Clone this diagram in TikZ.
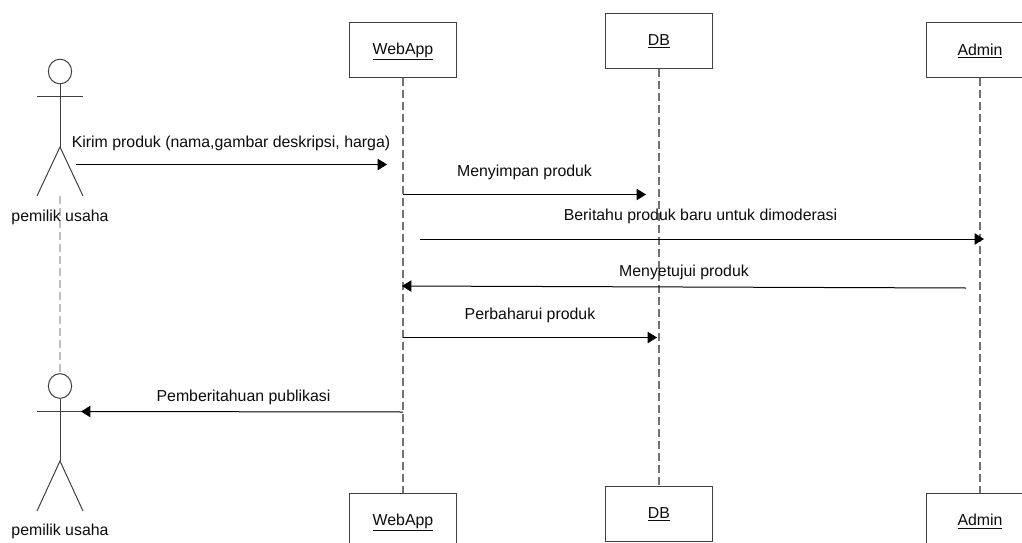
\documentclass[tikz,border=0pt]{standalone}
\usepackage{fontspec}
\setmainfont{Liberation Sans}
\usetikzlibrary{arrows.meta,shapes.geometric}
\tikzset{
  x=0.75pt,y=-0.75pt,
  objbox/.style={draw=black!75,line width=0.75pt,fill=white,minimum width=80.25pt,minimum height=41.25pt,inner sep=0pt,text=black!90},
  lbl/.style={inner sep=0pt,text=black!95,font=\fontsize{11.9pt}{13pt}\selectfont},
  life/.style={draw=black!55,line width=0.8pt,dash pattern=on 6pt off 3pt},
  lifelight/.style={draw=black!25,line width=0.8pt,dash pattern=on 6pt off 3pt},
  msg/.style={draw=black,line width=0.75pt,-{Triangle[length=7pt,width=8.5pt]}},
  stick/.style={draw=black!75,line width=0.75pt},
  head/.style={draw=black!75,line width=0.75pt,ellipse,minimum width=17.5pt,minimum height=18.5pt,inner sep=0pt},
}
\begin{document}
\begin{tikzpicture}
\clip (0,0) rectangle (1022,543);
\fill[white] (0,0) rectangle (1022,543);
% boxes
\node[objbox] (webT) at (403,49.5) {};
\node[objbox] (dbT) at (659,40.5) {};
\node[objbox] (admT) at (980,49.5) {};
\node[objbox] (webB) at (403,520.5) {};
\node[objbox] (dbB) at (659,513.5) {};
\node[objbox] (admB) at (980,520.5) {};
\node[lbl] (webTt) at (403,51.5) {\underline{WebApp}};
\node[lbl] (dbTt) at (659,41.5) {\underline{DB}};
\node[lbl] (admTt) at (980,51) {\underline{Admin}};
\node[lbl] (webBt) at (403,522.5) {\underline{WebApp}};
\node[lbl] (dbBt) at (659,514.5) {\underline{DB}};
\node[lbl] (admBt) at (980,521.5) {\underline{Admin}};
% lifelines
\draw[life] (webT.south) -- (webB.north);
\draw[life] (dbT.south) -- (dbB.north);
\draw[life] (admT.south) -- (admB.north);
% top actor
\coordinate (a1foot) at (60,196);
\coordinate (a1hip) at (60,147);
\node[head] (a1head) at (60,71.5) {};
\draw[stick] (a1head.south) -- (a1hip);
\draw[stick] (37,96.5) -- (83,96.5);
\draw[stick] (37,196) -- (a1hip) -- (83,196);
% bottom actor
\coordinate (a2hip) at (60,461);
\node[head] (a2head) at (60,386) {};
\draw[stick] (a2head.south) -- (a2hip);
\draw[stick] (37,411.5) -- (83,411.5);
\draw[stick] (37,511) -- (a2hip) -- (83,511);
\draw[lifelight] (a1foot) -- (a2head.north);
\node[lbl] (a1) at (60,217) {pemilik usaha};
\node[lbl] (a2) at (60,531.5) {pemilik usaha};
% message endpoints
\coordinate (m1s) at (76,164.5); \coordinate (m1e) at (387,164.5);
\coordinate (m2s) at (403,194.5); \coordinate (m2e) at (646,194.5);
\coordinate (m3s) at (420,239); \coordinate (m3e) at (984,239);
\coordinate (m4s) at (966,288); \coordinate (m4e) at (402,286);
\coordinate (m5s) at (403,337.5); \coordinate (m5e) at (657,337.5);
\coordinate (m6s) at (403,412); \coordinate (m6e) at (81,411.5);
\draw[msg] (m1s) -- (m1e);
\draw[msg] (m2s) -- (m2e);
\draw[msg] (m3s) -- (m3e);
\draw[msg] (m4s) -- (m4e);
\draw[msg] (m5s) -- (m5e);
\draw[msg] (m6s) -- (m6e);
% message labels
\node[lbl] (l1) at (231,143) {Kirim produk (nama,gambar deskripsi, harga)};
\node[lbl] (l2) at (524.5,172) {Menyimpan produk};
\node[lbl] (l3) at (700.5,216.5) {Beritahu produk baru untuk dimoderasi};
\node[lbl] (l4) at (684,272) {Menyetujui produk};
\node[lbl] (l5) at (530,315.5) {Perbaharui produk};
\node[lbl] (l6) at (243.5,397.5) {Pemberitahuan publikasi};
\end{tikzpicture}
\end{document}
